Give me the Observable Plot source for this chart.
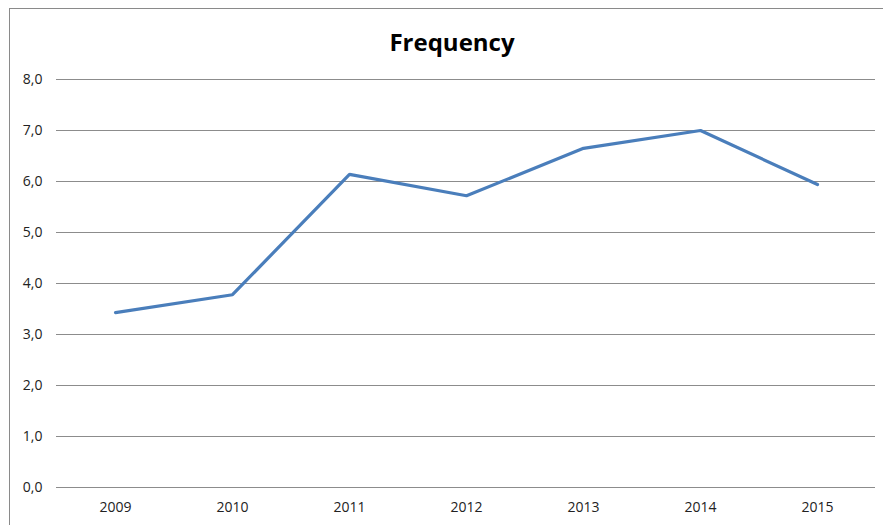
<!DOCTYPE html>
<html>
<head>
<meta charset="utf-8">
<script src="https://cdn.jsdelivr.net/npm/d3@7"></script>
<script src="https://cdn.jsdelivr.net/npm/@observablehq/plot@0.6"></script>
<style>
  html, body { margin: 0; padding: 0; background: #fff; }
  #wrap { position: relative; width: 883px; height: 525px; overflow: hidden; }
  #frame { position: absolute; left: 9px; top: 8px; width: 900px; height: 560px; border: 1px solid #8a8a8a; box-sizing: border-box; }
  #chart { position: absolute; left: 0; top: 0; }
</style>
</head>
<body>
<div id="wrap"><div id="frame"></div><div id="chart"></div></div>
<script>
const title = "Frequency";
const years = ["2009", "2010", "2011", "2012", "2013", "2014", "2015"];
const values = [3.43, 3.78, 6.14, 5.72, 6.65, 7.0, 5.94];
const yTicks = [0, 1, 2, 3, 4, 5, 6, 7, 8];

const data = years.map((y, i) => ({year: y, value: values[i]}));

const chart = Plot.plot({
  width: 883,
  height: 525,
  marginLeft: 56,
  marginRight: 8,
  marginTop: 79,
  marginBottom: 38,
  style: {fontFamily: "'Open Sans', sans-serif", fontSize: "14px", color: "#222", background: "transparent"},
  x: {type: "point", domain: years, padding: 0.5, label: null},
  y: {domain: [0, 8], label: null},
  marks: [
    Plot.ruleY(yTicks, {stroke: "#8c8c8c", strokeWidth: 1.2}),
    Plot.line(data, {x: "year", y: "value", stroke: "#4a7ebb", strokeWidth: 3.2, strokeLinejoin: "miter"}),
    Plot.axisY(yTicks, {tickSize: 0, tickPadding: 14, label: null, tickFormat: d => d.toFixed(1).replace(".", ","), fill: "#222", fontSize: 14}),
    Plot.axisX({tickSize: 0, tickPadding: 15, label: null, fill: "#222", fontSize: 14}),
    Plot.text([title], {frameAnchor: "top", dx: -14, dy: -46, text: d => d, fontWeight: "bold", fontSize: 24, fill: "#000"})
  ]
});
document.getElementById("chart").appendChild(chart);
</script>
</body>
</html>
